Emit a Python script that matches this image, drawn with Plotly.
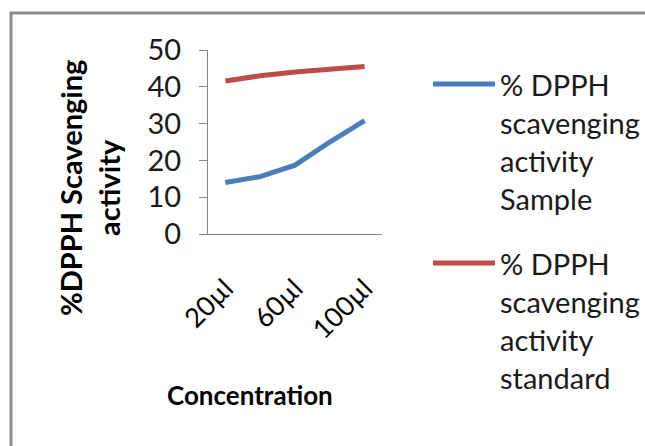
import plotly.graph_objects as go

# Concentrations tested and the scavenging activity measured at each
concentrations = ["20µl", "40µl", "60µl", "80µl", "100µl"]
shown_ticks = ["20µl", "60µl", "100µl"]
sample_activity = [14.0, 15.6, 18.7, 25.0, 30.8]
standard_activity = [41.6, 43.0, 44.0, 44.8, 45.5]
y_ticks = [0, 10, 20, 30, 40, 50]

series_names = [
    ["% DPPH", "scavenging", "activity", "Sample"],
    ["% DPPH", "scavenging", "activity", "standard"],
]
series_colors = ["#4A7EBB", "#BE4B48"]

W, H = 645, 446
PL, PR, PT, PB = 208, 382, 50, 234  # plot area in pixels
FONT = "Lato, Open Sans, sans-serif"


def px(x):
    return (x - PL) / (PR - PL)


def py(y):
    return (PB - y) / (PB - PT)


fig = go.Figure()
for vals, color in zip([sample_activity, standard_activity], series_colors):
    fig.add_trace(go.Scatter(
        x=concentrations, y=vals, mode="lines",
        line=dict(color=color, width=5), showlegend=False,
    ))

shapes = [
    # outer chart frame (right and bottom edges fall outside the view)
    dict(type="rect", xref="paper", yref="paper",
         x0=px(11), x1=px(660), y0=py(460), y1=py(13),
         line=dict(color="#8c8c8c", width=3), fillcolor="rgba(0,0,0,0)"),
]
annotations = []

# Legend drawn beside the plot
legend_tops = [84, 263]
for names, color, top in zip(series_names, series_colors, legend_tops):
    shapes.append(dict(type="line", xref="paper", yref="paper",
                       x0=px(433), x1=px(495), y0=py(top), y1=py(top),
                       line=dict(color=color, width=5)))
    for i, t in enumerate(names):
        annotations.append(dict(
            text=t, xref="paper", yref="paper", x=px(498), y=py(top + 38 * i),
            xanchor="left", yanchor="middle", showarrow=False,
            font=dict(family=FONT, size=29, color="#1a1a1a"),
        ))

# Y axis title
annotations.append(dict(
    text="<b>%DPPH Scavenging<br>activity</b>", xref="paper", yref="paper",
    x=px(89), y=py(188), textangle=-90, showarrow=False,
    xanchor="center", yanchor="middle",
    font=dict(family=FONT, size=29, color="#000000"),
))
# X axis title
annotations.append(dict(
    text="<b>Concentration</b>", xref="paper", yref="paper",
    x=px(250), y=py(395), showarrow=False,
    xanchor="center", yanchor="middle",
    font=dict(family=FONT, size=26, color="#000000"),
))

fig.update_layout(
    width=W, height=H,
    margin=dict(l=PL, r=W - PR, t=PT, b=H - PB),
    paper_bgcolor="white", plot_bgcolor="white",
    shapes=shapes, annotations=annotations,
    xaxis=dict(
        type="category", range=[-0.5, 4.5],
        tickmode="array", tickvals=shown_ticks, ticktext=shown_ticks,
        tickangle=-45, ticks="", showgrid=False,
        showline=True, linecolor="#868686", linewidth=1,
        tickfont=dict(family=FONT, size=27, color="#000000"),
        ticklabelstandoff=27,
    ),
    yaxis=dict(
        range=[0, 50], tickmode="array", tickvals=y_ticks,
        ticks="outside", ticklen=8, tickcolor="#868686",
        showgrid=False, zeroline=False,
        showline=True, linecolor="#868686", linewidth=1,
        tickfont=dict(family=FONT, size=29, color="#1a1a1a"),
        ticklabelstandoff=12,
    ),
)

fig.write_html("out.html")
